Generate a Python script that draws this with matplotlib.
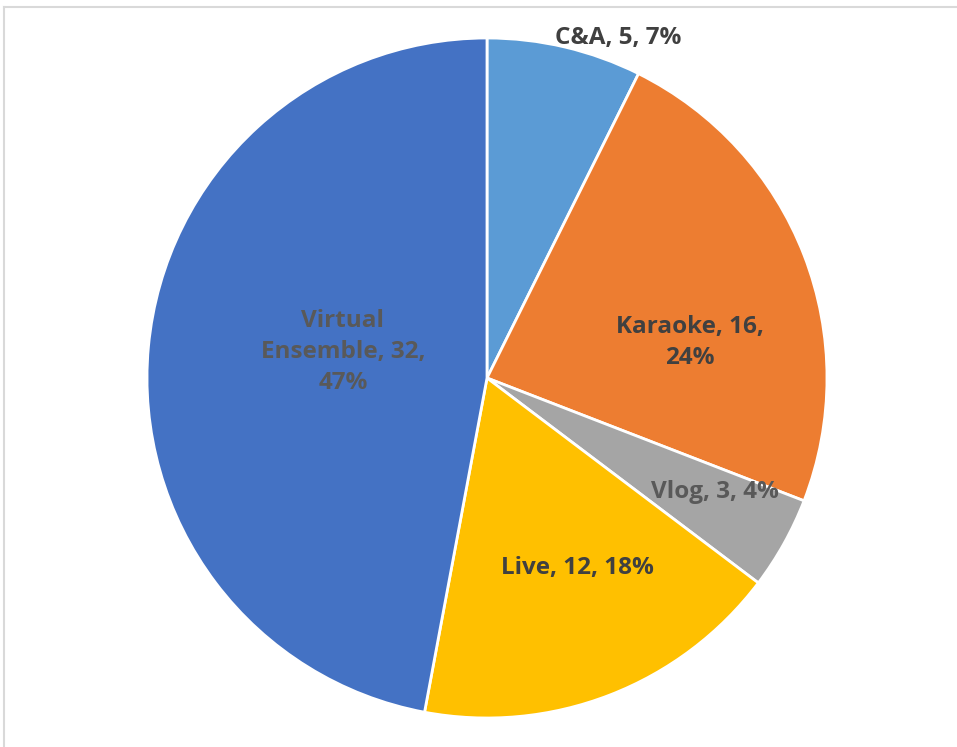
import matplotlib
matplotlib.use("Agg")
import matplotlib.pyplot as plt
from matplotlib.lines import Line2D

categories = ["C&A", "Karaoke", "Vlog", "Live", "Virtual\nEnsemble"]
values = [5, 16, 3, 12, 32]
colors = ["#5B9BD5", "#ED7D31", "#A5A5A5", "#FFC000", "#4472C4"]
label_colors = ["#404040", "#404040", "#595959", "#404040", "#595959"]
# label anchor points, in units of the pie radius
label_pos = [(0.385, 1.0), (0.597, 0.105), (0.671, -0.335), (0.265, -0.559), (-0.424, 0.076)]

W, H, DPI = 957, 747, 100
fig = plt.figure(figsize=(W / DPI, H / DPI), dpi=DPI)
fig.patch.set_facecolor("white")

# chart frame (top and left edges visible)
fig.add_artist(Line2D([4 / W, 1], [1 - 6.5 / H, 1 - 6.5 / H], color="#D9D9D9", lw=1.5))
fig.add_artist(Line2D([4 / W, 4 / W], [0, 1 - 6.5 / H], color="#D9D9D9", lw=1.5))

cx, cy, r = 487, 378, 340
ax = fig.add_axes([(cx - r) / W, (H - cy - r) / H, 2 * r / W, 2 * r / H])
ax.pie(values, colors=colors, startangle=90, counterclock=False, radius=1,
       wedgeprops=dict(edgecolor="white", linewidth=2))
ax.set_xlim(-1, 1)
ax.set_ylim(-1, 1)
ax.set_aspect("auto")
ax.axis("off")

total = sum(values)
for name, v, (x, y), c in zip(categories, values, label_pos, label_colors):
    pct = round(100 * v / total)
    if name in ("Karaoke",) or "\n" in name:
        txt = f"{name}, {v},\n{pct}%"
    else:
        txt = f"{name}, {v}, {pct}%"
    ax.text(x, y, txt, ha="center", va="center", fontsize=17.5, fontweight="bold",
            color=c, family=["Open Sans", "DejaVu Sans"], linespacing=1.4, clip_on=False)

fig.savefig("out.png", dpi=DPI)
